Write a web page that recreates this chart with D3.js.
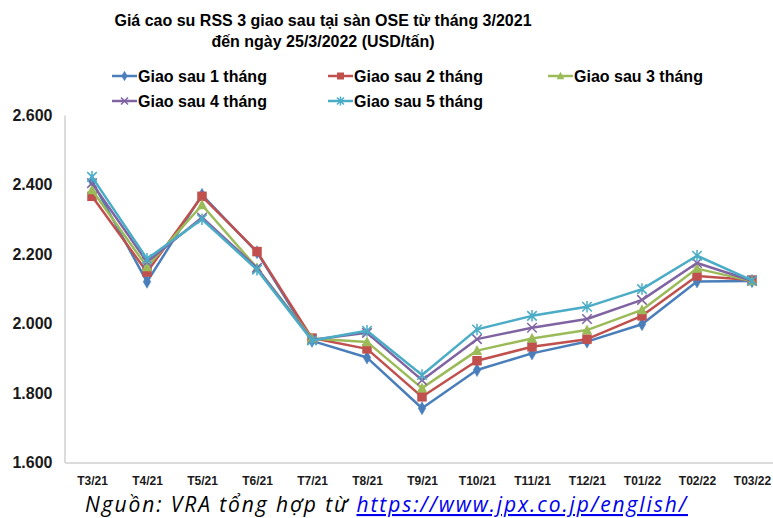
<!DOCTYPE html>
<html><head><meta charset="utf-8">
<script src="https://cdn.jsdelivr.net/npm/d3@7"></script>
<style>
html,body{margin:0;padding:0;background:#fff;}
svg{display:block;}
</style></head>
<body>
<svg id="chart" width="773" height="518"></svg>
<script>
const categories = ["T3/21","T4/21","T5/21","T6/21","T7/21","T8/21","T9/21","T10/21","T11/21","T12/21","T01/22","T02/22","T03/22"];
const seriesNames = ["Giao sau 1 tháng","Giao sau 2 tháng","Giao sau 3 tháng","Giao sau 4 tháng","Giao sau 5 tháng"];
const giaoSau1 = [2410, 2120, 2370, 2205, 1950, 1902, 1756, 1866, 1914, 1948, 1998, 2121, 2122];
const giaoSau2 = [2366, 2148, 2366, 2207, 1958, 1927, 1789, 1893, 1933, 1955, 2022, 2137, 2125];
const giaoSau3 = [2384, 2163, 2341, 2160, 1957, 1947, 1814, 1922, 1957, 1981, 2039, 2158, 2122];
const giaoSau4 = [2404, 2177, 2305, 2160, 1953, 1973, 1837, 1955, 1988, 2013, 2068, 2174, 2123];
const giaoSau5 = [2422, 2186, 2300, 2155, 1951, 1979, 1852, 1983, 2022, 2048, 2099, 2195, 2124];
const yTicks = [1600, 1800, 2000, 2200, 2400, 2600];
const titleLines = ["Giá cao su RSS 3 giao sau tại sàn OSE từ tháng 3/2021", "đến ngày 25/3/2022 (USD/tấn)"];
const sourcePrefix = "Nguồn: VRA tổng hợp từ ";
const sourceLink = "https://www.jpx.co.jp/english/";

const allSeries = [giaoSau1, giaoSau2, giaoSau3, giaoSau4, giaoSau5];
const colors = ["#4A7EBB", "#C0504D", "#9BBB59", "#8064A2", "#4BACC6"];
const markers = ["diamond", "square", "triangle", "x", "star"];

const svg = d3.select("#chart");
const font = "'Liberation Sans', Arial, sans-serif";

const x = d3.scalePoint().domain(categories).range([64.5, 779.5]).padding(0.5);
const y = d3.scaleLinear().domain([1600, 2600]).range([462.5, 115]);

const loc = d3.formatLocale({decimal: ",", thousands: ".", grouping: [3], currency: ["", ""]});
const fmt = loc.format(",.0f");

// Title
svg.append("g").selectAll("text").data(titleLines).join("text")
  .attr("x", 323).attr("y", (d, i) => 26 + i * 21)
  .attr("text-anchor", "middle")
  .style("font-family", font).style("font-weight", "bold").style("font-size", "16px")
  .attr("fill", "#000").text(d => d);

// Axes
const yAxis = svg.append("g").attr("transform", "translate(64.5,0)")
  .call(d3.axisLeft(y).tickValues(yTicks).tickFormat(fmt).tickSize(0).tickPadding(12));
yAxis.select(".domain").attr("stroke", "#d0d0d0").attr("stroke-width", 1.5);
yAxis.selectAll("text").style("font-family", font).style("font-weight", "bold").style("font-size", "16px").attr("fill", "#1a1a1a");

const xAxis = svg.append("g").attr("transform", "translate(0,462.5)")
  .call(d3.axisBottom(x).tickSize(0).tickPadding(14));
xAxis.select(".domain").attr("stroke", "#d0d0d0").attr("stroke-width", 1.5);
xAxis.selectAll("text").style("font-family", font).style("font-weight", "bold").style("font-size", "12px").attr("fill", "#1a1a1a");

// Marker drawing
function drawMarker(g, type, color, size) {
  const s = size;
  if (type === "diamond") {
    g.append("path").attr("d", d3.symbol(d3.symbolDiamond, s * s * 0.55)()).attr("fill", color).attr("stroke", color).attr("stroke-width", 0.5);
  } else if (type === "square") {
    g.append("rect").attr("x", -s / 2).attr("y", -s / 2).attr("width", s).attr("height", s).attr("fill", color);
  } else if (type === "triangle") {
    g.append("path").attr("d", `M0,${-s * 0.6}L${s * 0.55},${s * 0.45}L${-s * 0.55},${s * 0.45}Z`).attr("fill", color);
  } else if (type === "x") {
    const h = s / 2;
    g.append("path").attr("d", `M${-h},${-h}L${h},${h}M${-h},${h}L${h},${-h}`).attr("stroke", color).attr("stroke-width", 1.5).attr("fill", "none");
  } else if (type === "star") {
    const h = s / 2;
    g.append("path").attr("d", `M${-h},${-h}L${h},${h}M${-h},${h}L${h},${-h}M0,${-h - 1}L0,${h + 1}`).attr("stroke", color).attr("stroke-width", 1.5).attr("fill", "none");
  }
}

const line = d3.line().x((d, i) => x(categories[i])).y(d => y(d));
const plot = svg.append("g");
allSeries.forEach((vals, si) => {
  const g = plot.append("g");
  g.append("path").datum(vals).attr("d", line).attr("fill", "none")
    .attr("stroke", colors[si]).attr("stroke-width", 2.5).attr("stroke-linejoin", "round");
  vals.forEach((v, i) => {
    const mg = g.append("g").attr("transform", `translate(${x(categories[i])},${y(v)})`);
    drawMarker(mg, markers[si], colors[si], 9.5);
  });
});

// Legend
const legendPos = [[112, 76], [328, 76], [548, 76], [112, 101], [328, 101]];
seriesNames.forEach((name, si) => {
  const [lx, ly] = legendPos[si];
  const g = svg.append("g").attr("transform", `translate(${lx},${ly})`);
  g.append("line").attr("x1", 0).attr("x2", 25).attr("y1", 0).attr("y2", 0).attr("stroke", colors[si]).attr("stroke-width", 2.5);
  const mg = g.append("g").attr("transform", "translate(12.5,0)");
  drawMarker(mg, markers[si], colors[si], 7);
  g.append("text").attr("x", 26).attr("y", 0).attr("dy", "0.36em")
    .style("font-family", font).style("font-weight", "bold").style("font-size", "16px")
    .attr("fill", "#000").text(name);
});

// Source
const src = svg.append("text").attr("x", 85).attr("y", 512)
  .style("font-family", "'Open Sans', sans-serif").style("font-style", "italic").style("font-size", "21px");
src.append("tspan").attr("fill", "#000").text(sourcePrefix);
src.append("tspan").attr("fill", "#0000EE").style("text-decoration", "underline").text(sourceLink);
const srcLen = src.node().getComputedTextLength();
const nChars = (sourcePrefix + sourceLink).length;
src.style("letter-spacing", ((603 - srcLen) / nChars) + "px");
</script>
</body></html>
